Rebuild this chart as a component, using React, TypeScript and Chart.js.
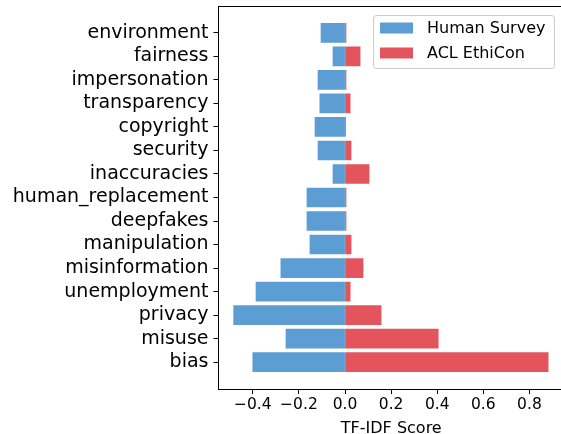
import { useEffect, useRef } from 'react';
import { Chart, registerables } from 'chart.js';

Chart.register(...registerables);

const categories = [
  'environment', 'fairness', 'impersonation', 'transparency', 'copyright',
  'security', 'inaccuracies', 'human_replacement', 'deepfakes', 'manipulation',
  'misinformation', 'unemployment', 'privacy', 'misuse', 'bias',
];
const humanSurvey = [
  -0.104, -0.052, -0.117, -0.109, -0.13,
  -0.117, -0.052, -0.165, -0.165, -0.152,
  -0.278, -0.386, -0.483, -0.256, -0.40,
];
const aclEthiCon = [
  0.004, 0.065, 0.004, 0.022, 0.002,
  0.026, 0.104, 0.004, 0.004, 0.026,
  0.078, 0.022, 0.156, 0.404, 0.881,
];
const xTickValues = [-0.4, -0.2, 0, 0.2, 0.4, 0.6, 0.8];
const seriesLabels = ['Human Survey', 'ACL EthiCon'];
const seriesColors = ['#5c9dd4', '#e3545c'];

const FONT = "'DejaVu Sans', sans-serif";

export default function App() {
  const ref = useRef<HTMLCanvasElement>(null);

  useEffect(() => {
    const canvas = ref.current;
    if (!canvas) return;

    const framePlugin = {
      id: 'frameAndLegend',
      afterDraw(chart: any) {
        const c = chart.ctx as CanvasRenderingContext2D;
        const a = chart.chartArea;
        c.save();
        // top and right spines
        c.strokeStyle = '#000';
        c.lineWidth = 1;
        c.beginPath();
        c.moveTo(a.left, Math.round(a.top) + 0.5);
        c.lineTo(a.right, Math.round(a.top) + 0.5);
        c.lineTo(a.right, a.bottom);
        c.stroke();

        // legend box
        const x0 = a.right - 191;
        const y0 = a.top + 9;
        const w = 181;
        const h = 53;
        c.beginPath();
        c.roundRect(x0 + 0.5, y0 + 0.5, w, h, 3);
        c.fillStyle = 'rgba(255,255,255,0.8)';
        c.fill();
        c.strokeStyle = '#cccccc';
        c.stroke();

        const datasets = chart.data.datasets;
        datasets.forEach((ds: any, i: number) => {
          const cy = y0 + 13 + i * 25;
          c.fillStyle = ds.backgroundColor;
          c.fillRect(x0 + 7, cy - 5.5, 33, 11);
          c.fillStyle = '#000';
          c.font = `16px ${FONT}`;
          c.textBaseline = 'middle';
          c.textAlign = 'left';
          c.fillText(ds.label, x0 + 54, cy + 1);
        });
        c.restore();
      },
    };

    const chart = new Chart(canvas, {
      type: 'bar',
      data: {
        datasets: [
          {
            label: seriesLabels[0],
            data: humanSurvey.map((v, i) => ({ x: v, y: i })),
            backgroundColor: seriesColors[0],
            barPercentage: 0.8,
            categoryPercentage: 1,
            inflateAmount: 0.4,
          },
          {
            label: seriesLabels[1],
            data: aclEthiCon.map((v, i) => ({ x: v, y: i })),
            backgroundColor: seriesColors[1],
            barPercentage: 0.8,
            categoryPercentage: 1,
            inflateAmount: 0.4,
          },
        ],
      },
      options: {
        indexAxis: 'y',
        responsive: false,
        animation: false,
        layout: { padding: { top: 6, right: 6, left: 0, bottom: 0 } },
        plugins: {
          legend: { display: false },
          tooltip: { enabled: false },
        },
        scales: {
          y: {
            type: 'linear',
            reverse: true,
            offset: false,
            min: -1.14,
            max: 15.14,
            stacked: true,
            afterBuildTicks: (s: any) => {
              s.ticks = categories.map((_, i) => ({ value: i }));
            },
            afterFit: (s: any) => {
              s.width = 218.5;
              s.paddingTop = 0;
              s.paddingBottom = 0;
            },
            ticks: {
              autoSkip: false,
              padding: 5,
              color: '#000',
              font: { family: FONT, size: 19 },
              callback: (v: any) => categories[Math.round(Number(v))],
            },
            grid: { offset: false, drawOnChartArea: false, drawTicks: true, tickLength: 5, color: '#000' },
            border: { display: true, color: '#000', width: 1 },
          },
          x: {
            type: 'linear',
            offset: false,
            min: -0.549,
            max: 0.95,
            stacked: true,
            afterBuildTicks: (s: any) => {
              s.ticks = xTickValues.map((v) => ({ value: v }));
            },
            afterFit: (s: any) => {
              s.height = 45;
              s.paddingLeft = 0;
              s.paddingRight = 0;
            },
            ticks: {
              autoSkip: false,
              maxRotation: 0,
              padding: 2,
              color: '#000',
              font: { family: FONT, size: 15.5 },
              callback: (v: any) => {
                const n = Number(v);
                if (Math.abs(n) < 1e-9) return '0.0';
                const s = Math.abs(n).toFixed(1);
                return n < 0 ? '\u2212' + s : s;
              },
            },
            grid: { offset: false, drawOnChartArea: false, drawTicks: true, tickLength: 5, color: '#000' },
            border: { display: true, color: '#000', width: 1 },
            title: {
              display: true,
              text: 'TF-IDF Score',
              color: '#000',
              font: { family: FONT, size: 16, lineHeight: 1 },
              padding: { top: 0, bottom: -3 },
            },
          },
        },
      },
      plugins: [framePlugin],
    });

    return () => chart.destroy();
  }, []);

  return (
    <div
      style={{
        position: 'absolute',
        left: 0,
        top: 0,
        width: 561,
        height: 434,
        overflow: 'hidden',
        background: '#fff',
      }}
    >
      <canvas ref={ref} width={570} height={434} style={{ display: 'block' }} />
    </div>
  );
}
